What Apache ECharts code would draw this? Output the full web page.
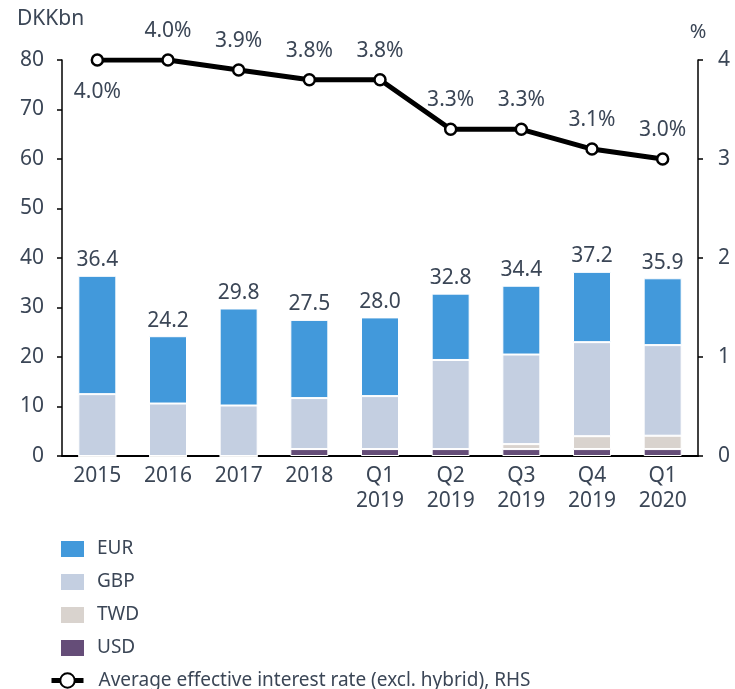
<!DOCTYPE html>
<html>
<head>
<meta charset="utf-8">
<script src="https://cdn.jsdelivr.net/npm/echarts@6/dist/echarts.min.js"></script>
<style>
  html, body { margin: 0; padding: 0; background: #fff; }
  #chart { width: 735px; height: 689px; }
</style>
</head>
<body>
<div id="chart"></div>
<script>
// categories and values (DKKbn, %)
const categories = ['2015', '2016', '2017', '2018', 'Q1\n2019', 'Q2\n2019', 'Q3\n2019', 'Q4\n2019', 'Q1\n2020']
const usd = [0, 0, 0, 1.4, 1.4, 1.4, 1.4, 1.4, 1.4]
const twd = [0, 0, 0, 0, 0, 0, 1.0, 2.6, 2.7]
const gbp = [12.5, 10.6, 10.2, 10.3, 10.7, 18.0, 18.1, 19.0, 18.3]
const eur = [23.9, 13.6, 19.6, 15.8, 15.9, 13.4, 13.9, 14.2, 13.5]
const totals = [36.4, 24.2, 29.8, 27.5, 28.0, 32.8, 34.4, 37.2, 35.9]
const rate = [4.0, 4.0, 3.9, 3.8, 3.8, 3.3, 3.3, 3.1, 3.0]

const textColor = '#3b4656'
const fontFamily = '"Noto Sans", sans-serif'
const lineName = 'Average effective interest rate (excl. hybrid), RHS'

const chart = echarts.init(document.getElementById('chart'))

// stacked bar helper
const bar = (name, data, color) => ({
  name: name,
  type: 'bar',
  stack: 'total',
  barWidth: 38,
  data: data,
  itemStyle: { color: color, borderColor: '#fff', borderWidth: 1 }
})

const eurSeries = bar('EUR', eur, '#4299db')
eurSeries.label = {
  show: true,
  position: 'top',
  distance: 5,
  fontSize: 21,
  color: textColor,
  formatter: p => totals[p.dataIndex].toFixed(1)
}

const legendText = { fontSize: 19, lineHeight: 18, color: textColor, fontFamily: fontFamily, padding: [0, 0, 0, 7] }

chart.setOption({
  animation: false,
  textStyle: { fontFamily: fontFamily, color: textColor },
  grid: { left: 62, right: 37, top: 60, bottom: 233 },
  legend: [
    {
      orient: 'vertical',
      left: 59,
      top: 539,
      padding: 0,
      itemWidth: 25,
      itemHeight: 18,
      itemGap: 13,
      textStyle: legendText,
      data: [
        { name: 'EUR', icon: 'rect' },
        { name: 'GBP', icon: 'rect' },
        { name: 'TWD', icon: 'rect' },
        { name: 'USD', icon: 'rect' }
      ]
    },
    {
      left: 49,
      top: 671,
      padding: 0,
      itemWidth: 32,
      itemHeight: 18,
      textStyle: Object.assign({}, legendText, { padding: [0, 0, 0, 10] }),
      data: [{ name: lineName, lineStyle: { width: 5, color: '#000' } }]
    }
  ],
  xAxis: {
    type: 'category',
    data: categories,
    axisLine: { lineStyle: { color: '#000', width: 2 } },
    axisTick: { show: false },
    axisLabel: { color: textColor, fontSize: 21, lineHeight: 25, margin: 8 }
  },
  yAxis: [
    {
      type: 'value',
      name: 'DKKbn',
      nameLocation: 'end',
      nameGap: 30,
      nameTextStyle: { fontSize: 21, color: textColor, align: 'left', padding: [0, 0, 0, -45] },
      min: 0,
      max: 80,
      interval: 10,
      splitLine: { show: false },
      axisLine: { show: true, lineStyle: { color: '#000', width: 1.5 } },
      axisTick: { show: true, length: 5, lineStyle: { color: '#000', width: 1.5 } },
      axisLabel: { color: textColor, fontSize: 21, margin: 18 }
    },
    {
      type: 'value',
      name: '%',
      nameLocation: 'end',
      nameGap: 18,
      nameTextStyle: { fontSize: 20, color: textColor },
      min: 0,
      max: 4,
      interval: 1,
      splitLine: { show: false },
      axisLine: { show: true, lineStyle: { color: '#000', width: 1.5 } },
      axisTick: { show: true, length: 5, lineStyle: { color: '#000', width: 1.5 } },
      axisLabel: { color: textColor, fontSize: 21, margin: 20 }
    }
  ],
  series: [
    bar('USD', usd, '#654d78'),
    bar('TWD', twd, '#d9d3ce'),
    bar('GBP', gbp, '#c4cfe1'),
    eurSeries,
    {
      name: lineName,
      type: 'line',
      yAxisIndex: 1,
      data: rate.map((v, i) => i === 0
        ? { value: v, label: { position: 'bottom', distance: 15 } }
        : v),
      symbol: 'circle',
      symbolSize: 11,
      lineStyle: { color: '#000', width: 5 },
      itemStyle: { color: '#fff', borderColor: '#000', borderWidth: 2.5 },
      label: {
        show: true,
        position: 'top',
        distance: 12,
        fontSize: 21,
        color: textColor,
        formatter: p => p.value.toFixed(1) + '%'
      },
      z: 5
    }
  ]
})
</script>
</body>
</html>
